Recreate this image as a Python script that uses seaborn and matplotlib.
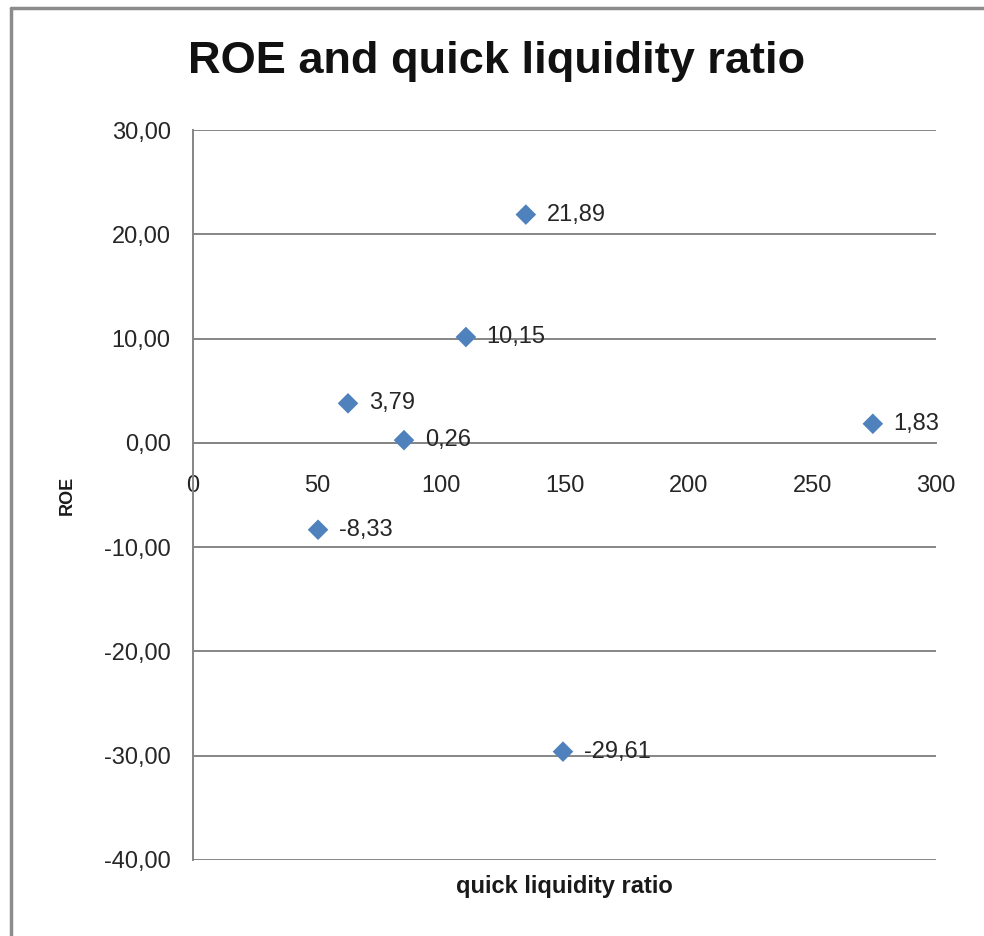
import matplotlib
matplotlib.use("Agg")
import matplotlib.pyplot as plt
import seaborn as sns
import pandas as pd
from matplotlib.lines import Line2D

# values
quick_ratio = [134.4, 110.2, 62.6, 85.2, 274.5, 50.5, 149.4]
roe = [21.89, 10.15, 3.79, 0.26, 1.83, -8.33, -29.61]
y_ticks = [30, 20, 10, 0, -10, -20, -30, -40]
x_ticks = [0, 50, 100, 150, 200, 250, 300]

df = pd.DataFrame({'quick liquidity ratio': quick_ratio, 'ROE': roe})

sns.set_style("white")
plt.rcParams['font.family'] = ['Liberation Sans', 'DejaVu Sans']

grid_col = '#868686'
blue = '#4F81BD'

fig = plt.figure(figsize=(9.84, 9.36), dpi=100)
ax = fig.add_axes([0.1961, 0.0812, 0.7551, 0.7799])

sns.scatterplot(data=df, x='quick liquidity ratio', y='ROE', marker='D', s=110,
                color=blue, edgecolor='none', ax=ax, zorder=3)

for xv, yv in zip(quick_ratio, roe):
    ax.annotate(('%.2f' % yv).replace('.', ','), (xv, yv), xytext=(15, 0),
                textcoords='offset points', va='center', ha='left',
                fontsize=17, color='#262626', zorder=4)

ax.set_xlim(0, 300)
ax.set_ylim(-40, 30)
ax.set_xticks(x_ticks)
ax.set_yticks(y_ticks)
ax.set_yticklabels([('%.2f' % v).replace('.', ',') for v in y_ticks])
ax.tick_params(axis='both', length=0, labelsize=17, labelcolor='#262626')
ax.tick_params(axis='x', pad=23)
ax.tick_params(axis='y', pad=16)

for v in y_ticks:
    ax.axhline(v, color=grid_col, lw=1.4, zorder=1)

ax.spines['top'].set_visible(False)
ax.spines['right'].set_visible(False)
ax.spines['left'].set_color(grid_col)
ax.spines['left'].set_linewidth(1.4)
ax.spines['bottom'].set_position(('data', 0))
ax.spines['bottom'].set_color(grid_col)
ax.spines['bottom'].set_linewidth(1.4)

ax.set_xlabel('quick liquidity ratio', fontsize=17, fontweight='bold', color='#1a1a1a')
ax.set_ylabel('ROE', fontsize=13, fontweight='bold', color='#1a1a1a')
ax.xaxis.set_label_coords(0.5, -0.02)
ax.yaxis.set_label_coords(-0.158, 0.5)

fig.suptitle('ROE and quick liquidity ratio', x=0.505, y=0.934, va='center',
             fontsize=32.5, fontweight='bold', color='#111111')

# chart border as in the spreadsheet screenshot
fig.add_artist(Line2D([0.011, 0.011], [0, 0.991], color='#8c8c8c', lw=2.5, transform=fig.transFigure))
fig.add_artist(Line2D([0.011, 1], [0.991, 0.991], color='#8c8c8c', lw=2.5, transform=fig.transFigure))

fig.savefig('out.png', dpi=100)
